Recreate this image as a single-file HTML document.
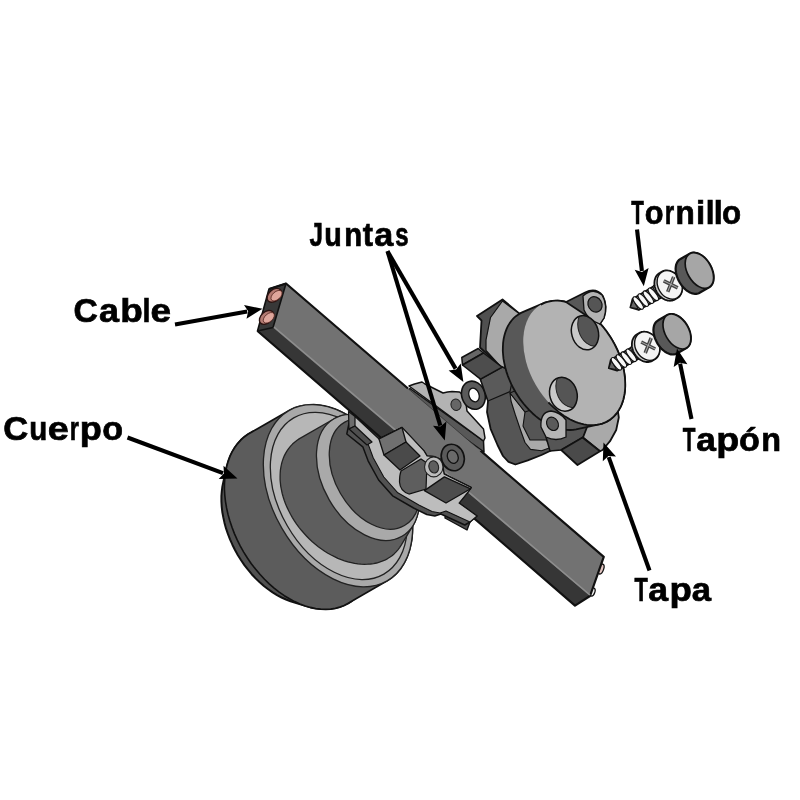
<!DOCTYPE html>
<html><head><meta charset="utf-8"><style>html,body{margin:0;padding:0;background:#fff;}svg{display:block}</style></head>
<body><svg width="800" height="800" viewBox="0 0 800 800">
<rect width="800" height="800" fill="#fff"/>
<polygon points="274.8,427.1 269.9,427.2 265.1,427.7 260.5,428.7 256.1,430.1 251.9,432.0 247.9,434.3 244.2,437.0 240.8,440.1 237.7,443.6 234.8,447.5 232.3,451.7 230.1,456.2 228.3,461.1 226.8,466.3 223.4,481.8 222.4,486.4 221.8,491.2 221.4,496.2 221.4,501.4 221.7,506.6 222.3,512.0 223.3,517.4 224.5,522.9 226.0,528.4 227.9,533.9 230.0,539.3 232.4,544.7 235.0,550.0 237.9,555.2 241.1,560.2 244.4,565.1 248.0,569.7 251.7,574.2 255.6,578.4 259.7,582.3 263.9,586.0 268.2,589.3 272.6,592.4 277.0,595.1 281.5,597.5 286.0,599.5 290.5,601.2 305.3,605.9 310.5,607.4 315.7,608.5 320.7,609.1 325.7,609.3 330.6,609.0 335.3,608.2 339.8,607.0 344.1,605.4 348.2,603.3 352.0,600.8 355.6,597.9 358.9,594.6 361.9,590.9 364.6,586.8 366.9,582.4 368.9,577.7 370.6,572.7 371.9,567.4 372.9,561.9 373.5,556.2 373.7,550.2 373.5,544.1 373.0,537.9 372.1,531.6 370.8,525.2 369.2,518.8 367.2,512.4 364.9,506.0 362.3,499.6 359.3,493.4 356.1,487.3 352.5,481.3 348.7,475.5 344.7,469.9 340.4,464.6 335.9,459.5 331.2,454.8 326.4,450.3 321.5,446.2 316.4,442.4 311.2,439.1 306.0,436.1 300.7,433.5 295.5,431.3 290.2,429.6 285.0,428.3 279.9,427.5 274.8,427.1" fill="#525252" stroke="#111" stroke-width="2.0" stroke-linejoin="round" />
<polygon points="313.8,404.6 308.9,404.7 304.1,405.2 299.5,406.2 295.1,407.6 290.9,409.5 251.9,432.0 247.9,434.3 244.2,437.0 240.8,440.1 237.7,443.6 234.8,447.5 232.3,451.7 230.1,456.2 228.3,461.1 226.8,466.3 225.6,471.7 224.9,477.3 224.5,483.1 224.4,489.2 224.8,495.3 225.5,501.6 226.6,508.0 228.0,514.4 229.8,520.8 232.0,527.2 234.4,533.6 237.2,539.9 240.3,546.1 243.7,552.1 247.4,558.0 251.3,563.7 255.5,569.1 259.9,574.3 264.5,579.2 269.2,583.9 274.1,588.1 279.2,592.1 284.3,595.7 289.5,598.8 294.7,601.6 300.0,604.0 305.3,605.9 310.5,607.4 315.7,608.5 320.7,609.1 325.7,609.3 330.6,609.0 335.3,608.2 339.8,607.0 344.1,605.4 348.2,603.3 387.2,580.8 391.0,578.3 394.6,575.4 397.9,572.1 400.9,568.4 403.5,564.3 405.9,559.9 407.9,555.2 409.6,550.2 410.9,544.9 411.9,539.4 412.4,533.7 412.6,527.7 412.5,521.6 412.0,515.4 411.1,509.1 409.8,502.7 408.2,496.3 406.2,489.9 403.9,483.5 401.3,477.1 398.3,470.9 395.0,464.8 391.5,458.8 387.7,453.0 383.7,447.4 379.4,442.1 374.9,437.0 370.2,432.3 365.4,427.8 360.4,423.7 355.3,419.9 350.2,416.6 345.0,413.6 339.7,411.0 334.4,408.8 329.2,407.1 324.0,405.8 318.8,405.0 313.8,404.6" fill="#5c5c5c" stroke="#111" stroke-width="1.6" stroke-linejoin="round" />
<ellipse cx="338.0" cy="495.7" rx="98.3" ry="64.9" transform="rotate(60.0 338.0 495.7)" fill="#a9a9a9" stroke="#222" stroke-width="1.3" />
<ellipse cx="338.8" cy="496.0" rx="90.2" ry="59.5" transform="rotate(60.0 338.8 496.0)" fill="#b7b7b7" stroke="#222" stroke-width="1.3" />
<polygon points="349.1,414.7 346.6,414.8 344.2,415.2 341.8,415.7 339.5,416.4 337.3,417.2 335.1,418.2 299.1,438.9 296.8,440.5 294.6,442.2 292.5,444.1 290.6,446.1 288.8,448.3 287.2,450.6 285.7,453.1 284.4,455.6 283.3,458.3 282.3,461.1 281.5,464.0 280.9,467.1 280.4,470.1 280.2,473.3 280.1,476.6 280.1,479.9 280.4,483.2 280.8,486.6 281.5,490.1 282.2,493.5 283.2,497.0 284.3,500.5 285.6,503.9 287.1,507.4 288.7,510.8 290.5,514.2 292.4,517.6 294.4,520.9 296.6,524.1 299.0,527.3 301.4,530.3 304.0,533.3 306.7,536.2 309.4,539.0 312.3,541.7 315.3,544.3 318.3,546.7 321.5,549.0 324.7,551.2 327.9,553.2 331.2,555.0 334.5,556.7 337.8,558.3 341.2,559.6 344.5,560.8 347.9,561.9 351.3,562.7 354.6,563.4 357.9,563.9 361.1,564.2 364.4,564.3 367.5,564.2 370.6,564.0 373.6,563.6 376.6,563.0 379.4,562.2 382.1,561.2 384.8,560.1 387.3,558.8 389.7,557.3 392.0,555.7 394.1,553.9 396.1,551.9 397.9,549.8 399.6,547.6 401.2,545.2 413.7,524.3 414.9,522.0 415.9,519.6 416.9,517.0 417.7,514.4 418.3,511.6 418.8,508.8 419.2,505.9 419.5,502.9 419.6,499.8 419.5,496.7 419.3,493.5 419.0,490.3 418.5,487.0 417.9,483.7 417.1,480.4 416.2,477.1 415.2,473.7 414.0,470.4 412.7,467.2 411.3,463.9 409.8,460.7 408.1,457.5 406.4,454.4 404.5,451.3 402.5,448.4 400.4,445.5 398.3,442.6 396.0,439.9 393.7,437.3 391.3,434.8 388.9,432.5 386.4,430.2 383.8,428.1 381.2,426.1 378.5,424.3 375.9,422.6 373.2,421.0 370.4,419.7 367.7,418.4 365.0,417.4 362.3,416.5 359.6,415.8 356.9,415.3 354.3,414.9 351.7,414.7 349.1,414.7" fill="#5e5e5e" stroke="#222" stroke-width="1.3" stroke-linejoin="round" />
<ellipse cx="368.0" cy="477.5" rx="67.9" ry="44.8" transform="rotate(60.0 368.0 477.5)" fill="#a9a9a9" stroke="#222" stroke-width="1.3" />
<ellipse cx="374.6" cy="473.8" rx="59.7" ry="39.4" transform="rotate(60.0 374.6 473.8)" fill="#5a5a5a" stroke="#222" stroke-width="1.3" />
<polygon points="410.0,388.5 483.5,441.0 484.0,452.0 405.0,395.0" fill="#585858" stroke="#111" stroke-width="1.5" stroke-linejoin="round" />
<polygon points="409.0,386.0 414.5,384.0 422.0,382.0 425.0,384.0 443.0,393.0 447.5,392.0 452.0,391.5 459.5,392.0 464.0,396.0 466.0,403.5 467.0,411.0 483.5,429.0 485.0,438.0 483.5,441.0" fill="#b3b3b3" stroke="#111" stroke-width="1.5" stroke-linejoin="round" />
<ellipse cx="456" cy="404.75" rx="5" ry="5.8" transform="rotate(-15 456 404.75)" fill="#666" stroke="#222" stroke-width="1"/>
<ellipse cx="601" cy="569" rx="2.6" ry="5.2" transform="rotate(20 601 569)" fill="#e2c4c0" stroke="#111" stroke-width="1.3"/>
<ellipse cx="592.5" cy="592" rx="2.3" ry="4.2" transform="rotate(20 592.5 592)" fill="#eeeeee" stroke="#111" stroke-width="1.3"/>
<polygon points="269.0,289.0 286.0,283.5 603.8,556.9 590.0,596.0 575.0,605.6 257.5,331.0" fill="#727272" stroke="none" stroke-width="0" stroke-linejoin="round" />
<polygon points="273.0,327.5 590.0,596.0 575.0,605.6 257.5,331.0" fill="#363636" stroke="none" stroke-width="0" stroke-linejoin="round" />
<polygon points="286.0,283.5 273.0,327.5 257.5,331.0 269.0,289.0" fill="#383838" stroke="#111" stroke-width="1.6" stroke-linejoin="round" />
<path d="M408,388.5 L286,283.5 L269,289 M257.5,331 L575,605.6 L590,596 L603.75,556.9 L480.5,450.7" fill="none" stroke="#111" stroke-width="2.2" stroke-linejoin="round"/>
<path d="M408,388.5 L480.5,450.7" fill="none" stroke="#333" stroke-width="0.8"/>
<line x1="274" y1="327" x2="590" y2="595" stroke="#8e8e8e" stroke-width="1.6"/>
<ellipse cx="274.3" cy="295.3" rx="8.3" ry="5.6" transform="rotate(-42 274.3 295.3)" fill="#b37a72" stroke="#2a1210" stroke-width="1.4"/>
<ellipse cx="276.5" cy="295.7" rx="6.6" ry="3.9" transform="rotate(-42 276.5 295.7)" fill="#dfa69c" stroke="#5a2a24" stroke-width="0.8"/>
<ellipse cx="266.6" cy="317.4" rx="8.3" ry="5.6" transform="rotate(-42 266.6 317.4)" fill="#b37a72" stroke="#2a1210" stroke-width="1.4"/>
<ellipse cx="268.8" cy="317.8" rx="6.6" ry="3.9" transform="rotate(-42 268.8 317.8)" fill="#dfa69c" stroke="#5a2a24" stroke-width="0.8"/>
<polygon points="446.0,511.0 445.0,518.0 467.0,530.0 470.0,522.0" fill="#4c4c4c" stroke="#111" stroke-width="1.4" stroke-linejoin="round" />
<polygon points="379.0,439.0 355.0,416.5 349.8,419.5 346.8,434.0 362.8,446.8 368.1,460.8 378.6,480.0 392.6,495.8 413.6,508.0 426.8,514.5 434.8,516.0 440.8,514.0 464.8,525.0 470.0,522.0 477.0,516.0 459.0,503.0 468.0,492.0 471.2,487.5 444.0,474.0 442.0,460.0 433.8,456.5 427.0,456.0 424.0,451.0 402.0,427.5 379.0,439.0" fill="#525252" stroke="#111" stroke-width="1.5" stroke-linejoin="round" />
<polygon points="352.0,431.0 355.0,416.5 379.0,439.0 402.0,427.5 424.0,451.0 427.0,456.0 433.8,456.5 442.0,460.0 444.0,474.0 471.2,487.5 468.0,492.0 459.0,503.0 477.0,516.0 470.0,522.0 446.0,511.0 440.0,513.0 432.0,511.5 418.8,505.0 397.8,492.8 383.8,477.0 373.2,457.8 368.0,443.8" fill="#bdbdbd" stroke="#111" stroke-width="1.0499999999999998" stroke-linejoin="round" />
<polygon points="348.5,411.5 355.0,416.5 355.0,426.0 349.0,429.0" fill="#6c6c6c" stroke="#111" stroke-width="1.2" stroke-linejoin="round" />
<polygon points="349.0,429.0 355.0,426.0 372.0,442.0 367.0,445.0" fill="#4e4e4e" stroke="#111" stroke-width="1.2" stroke-linejoin="round" />
<polygon points="379.0,439.0 402.0,427.5 406.0,442.0 384.0,455.0" fill="#707070" stroke="#111" stroke-width="1.3" stroke-linejoin="round" />
<polygon points="384.0,455.0 406.0,442.0 420.0,456.0 400.0,470.0" fill="#4a4a4a" stroke="#111" stroke-width="1.3" stroke-linejoin="round" />
<path d="M401,471 L421,459 L427,463 L426,489 L409,494 Q400,491 399.5,482 Q399.5,475 401,471 Z" fill="#5e5e5e" stroke="#111" stroke-width="1.2"/>
<ellipse cx="433.75" cy="466.9" rx="9.2" ry="10" fill="#bdbdbd" stroke="#222" stroke-width="1.1"/>
<ellipse cx="433.75" cy="466.9" rx="4.8" ry="6.2" transform="rotate(-15 433.75 466.9)" fill="#5e5e5e" stroke="#222" stroke-width="1.1"/>
<polygon points="424.4,490.6 444.4,476.9 470.6,488.8 446.0,503.0" fill="#4d4d4d" stroke="#111" stroke-width="1.3" stroke-linejoin="round" />
<ellipse cx="473.4" cy="395.2" rx="11.6" ry="14.3" transform="rotate(-20 473.4 395.2)" fill="#5a5a5a" stroke="#111" stroke-width="1.6"/>
<ellipse cx="474" cy="395" rx="5" ry="7" transform="rotate(-20 474 395)" fill="#ffffff" stroke="#111" stroke-width="1.3"/>
<ellipse cx="452.75" cy="457.5" rx="11.3" ry="13.5" transform="rotate(-20 452.75 457.5)" fill="#5a5a5a" stroke="#111" stroke-width="1.6"/>
<ellipse cx="452.75" cy="456.75" rx="5.3" ry="6.8" transform="rotate(-20 452.75 456.75)" fill="#6a6a6a" stroke="#111" stroke-width="1.3"/>
<polygon points="477.0,316.0 502.5,299.5 521.0,315.0 532.0,340.0 514.0,373.0 501.0,367.0 480.0,347.5 481.5,320.5" fill="#505050" stroke="#111" stroke-width="1.8" stroke-linejoin="round" />
<polygon points="502.5,301.0 521.0,315.0 532.0,340.0 514.0,373.0 501.0,367.0 486.0,350.5 486.0,340.0 490.5,317.5" fill="#a9a9a9" stroke="#111" stroke-width="1.2" stroke-linejoin="round" />
<polygon points="480.5,379.2 502.2,367.2 516.0,372.0 545.0,400.0 556.0,446.0 550.0,451.0 541.5,455.0 527.8,460.4 515.4,464.5 508.5,461.8 503.0,456.0 497.5,445.0 490.6,428.8 487.0,412.0 488.0,401.0" fill="#555555" stroke="#111" stroke-width="1.8" stroke-linejoin="round" />
<polygon points="488.0,401.0 510.0,391.6 514.0,372.0 502.2,367.2 480.5,379.2" fill="#5a5a5a" stroke="#111" stroke-width="1.2" stroke-linejoin="round" />
<polygon points="510.0,393.0 511.0,401.0 515.4,415.0 521.0,431.5 525.0,442.5 530.5,449.4 541.5,450.8 552.0,447.0 546.0,440.0 530.0,440.0 523.0,426.0 525.0,412.0" fill="#a9a9a9" stroke="#111" stroke-width="1.1" stroke-linejoin="round" />
<polygon points="525.0,412.0 510.0,393.0 540.0,380.0 560.0,400.0" fill="#555555" stroke="#111" stroke-width="1.1" stroke-linejoin="round" />
<polygon points="461.8,357.5 478.2,348.5 483.5,353.0 462.5,365.0" fill="#666666" stroke="#111" stroke-width="1.5" stroke-linejoin="round" />
<polygon points="462.5,365.0 483.5,353.0 502.2,367.2 480.5,379.2" fill="#4d4d4d" stroke="#111" stroke-width="1.5" stroke-linejoin="round" />
<polygon points="546.0,437.0 562.0,418.0 590.0,424.0 583.0,437.5 561.2,450.0 550.0,451.0" fill="#555555" stroke="#111" stroke-width="1.5" stroke-linejoin="round" />
<polygon points="583.0,437.5 588.0,424.5 607.0,418.0 618.0,412.0 618.8,417.5 616.2,430.0 610.0,441.2 602.5,450.0 600.0,451.2" fill="#a9a9a9" stroke="#111" stroke-width="1.8" stroke-linejoin="round" />
<polygon points="561.2,450.0 582.5,437.5 600.0,451.2 577.5,465.0" fill="#4a4a4a" stroke="#111" stroke-width="1.8" stroke-linejoin="round" />
<polygon points="557.7,300.7 554.3,300.8 551.1,301.1 547.9,301.8 544.9,302.7 523.8,311.6 521.0,312.9 518.4,314.4 515.9,316.2 513.7,318.2 511.6,320.5 509.7,323.1 508.0,325.9 506.6,328.9 505.4,332.1 504.4,335.5 503.6,339.1 503.1,342.8 502.9,346.7 502.8,350.7 503.1,354.7 503.5,358.9 504.3,363.1 505.2,367.3 506.4,371.6 507.8,375.8 509.5,380.0 511.3,384.2 513.4,388.3 515.6,392.3 518.0,396.1 520.6,399.9 523.4,403.5 526.3,406.9 529.3,410.2 532.4,413.2 535.7,416.1 539.0,418.7 542.4,421.0 545.8,423.1 549.3,425.0 552.8,426.5 556.2,427.8 559.7,428.8 563.1,429.5 566.5,429.9 569.8,430.0 573.0,429.8 576.1,429.3 599.0,424.4 602.1,423.6 605.0,422.5 607.8,421.1 610.4,419.4 612.9,417.4 615.1,415.1 617.2,412.6 619.0,409.8 620.6,406.8 622.0,403.6 623.1,400.2 624.0,396.6 624.7,392.8 625.1,388.9 625.2,384.8 625.1,380.6 624.8,376.4 624.1,372.1 623.3,367.7 622.2,363.3 620.8,358.9 619.3,354.6 617.5,350.2 615.4,346.0 613.2,341.8 610.8,337.7 608.2,333.8 605.4,330.0 602.5,326.3 599.4,322.9 596.2,319.6 592.9,316.6 589.6,313.7 586.1,311.2 582.6,308.9 579.0,306.8 575.4,305.1 571.8,303.6 568.2,302.4 564.7,301.5 561.1,301.0 557.7,300.7" fill="#585858" stroke="#111" stroke-width="1.8" stroke-linejoin="round" />
<path d="M541,427 Q540,412 551,411 Q560,412 566,420 L566,437 Q556,442 546,437 Z" fill="#b5b5b5" stroke="#111" stroke-width="1.3"/>
<ellipse cx="552.5" cy="423.8" rx="7.0" ry="5.6" transform="rotate(60.0 552.5 423.8)" fill="#5a5a5a" stroke="#111" stroke-width="1.2" />
<ellipse cx="574.2" cy="362.9" rx="67.1" ry="44.3" transform="rotate(60.0 574.2 362.9)" fill="#b3b3b3" stroke="none" stroke-width="0" />
<polyline points="548.4,402.3 550.9,404.9 553.5,407.4 556.1,409.7 558.7,411.9 561.5,414.0 564.2,415.9 567.0,417.6 569.8,419.2 572.7,420.6 575.5,421.8 578.3,422.8 581.1,423.7 583.9,424.3 586.7,424.8 589.4,425.1 592.1,425.1 594.7,425.0 597.3,424.7 599.8,424.2 602.2,423.6 604.5,422.7 606.8,421.6 608.9,420.4 610.9,419.0 612.8,417.4 614.6,415.7 616.3,413.7 617.8,411.7 619.2,409.4 620.5,407.1 621.6,404.6 622.6,401.9 623.4,399.2 624.1,396.3 624.6,393.4 625.0,390.3 625.2,387.1 625.2,383.9 625.1,380.6 624.9,377.3 624.4,373.9 623.9,370.5 623.1,367.0 622.3,363.6 621.2,360.1 620.0,356.7 618.7,353.2 617.3,349.8 615.7,346.5 614.0,343.2 612.1,339.9 610.2,336.8 608.1,333.7 606.0,330.6 603.7,327.7 601.3,324.9 598.9,322.3 596.4,319.7 593.8,317.3 591.1,315.0 588.4,312.9 585.7,310.9 582.9,309.1 580.1,307.4 577.3,305.9 574.4,304.6 571.6,303.5 568.8,302.6 566.0,301.8 563.2,301.3 560.5,300.9 557.7,300.7 555.1,300.7 552.5,300.9 550.0,301.3 547.5,301.9 545.1,302.7 542.9,303.6 540.7,304.8" fill="none" stroke="#111" stroke-width="1.8" stroke-linejoin="round"/>
<path d="M566,302 L585,292.5 Q596,287 603,296 Q608,306 604,318 L600,324 L590,318 Z" fill="#585858" stroke="#111" stroke-width="1.6"/>
<path d="M583,296 Q593,287 602,295 Q608,305 604,318 L600,324 Q588,320 584,310 Z" fill="#b3b3b3" stroke="#111" stroke-width="1.3"/>
<ellipse cx="595.0" cy="304.4" rx="8.0" ry="6.8" transform="rotate(60.0 595.0 304.4)" fill="#555555" stroke="#111" stroke-width="1.2" />
<clipPath id="hc0"><ellipse cx="585" cy="332.7" rx="17.4" ry="13.3" transform="rotate(74 585 332.7)"/></clipPath>
<ellipse cx="585" cy="332.7" rx="17.4" ry="13.3" transform="rotate(74 585 332.7)" fill="#c9c9c9"/>
<g clip-path="url(#hc0)"><ellipse cx="592.5" cy="327.2" rx="19.4" ry="14.3" transform="rotate(74 592.5 327.2)" fill="#555555" stroke="#222" stroke-width="1"/></g>
<ellipse cx="585" cy="332.7" rx="17.4" ry="13.3" transform="rotate(74 585 332.7)" fill="none" stroke="#111" stroke-width="1.5"/>
<clipPath id="hc1"><ellipse cx="563.4" cy="394.3" rx="17.2" ry="13.6" transform="rotate(74 563.4 394.3)"/></clipPath>
<ellipse cx="563.4" cy="394.3" rx="17.2" ry="13.6" transform="rotate(74 563.4 394.3)" fill="#c9c9c9"/>
<g clip-path="url(#hc1)"><ellipse cx="570.9" cy="388.8" rx="19.2" ry="14.6" transform="rotate(74 570.9 388.8)" fill="#555555" stroke="#222" stroke-width="1"/></g>
<ellipse cx="563.4" cy="394.3" rx="17.2" ry="13.6" transform="rotate(74 563.4 394.3)" fill="none" stroke="#111" stroke-width="1.5"/>
<polygon points="669.4,293.1 662.4,280.9 632.5,299.0 630.4,307.5 638.8,310.0" fill="#7a7a7a" stroke="#111" stroke-width="1.8" stroke-linejoin="round" />
<polygon points="633.2,300.3 630.4,307.5 638.1,308.7" fill="#666" stroke="#111" stroke-width="1.0" stroke-linejoin="round" />
<ellipse cx="663.4" cy="288.5" rx="7.6" ry="2.6" transform="rotate(52.0 663.4 288.5)" fill="#f8f8f8" stroke="#111" stroke-width="1.1"/>
<ellipse cx="658.4" cy="291.4" rx="7.6" ry="2.6" transform="rotate(52.0 658.4 291.4)" fill="#f8f8f8" stroke="#111" stroke-width="1.1"/>
<ellipse cx="653.3" cy="294.3" rx="7.6" ry="2.6" transform="rotate(52.0 653.3 294.3)" fill="#f8f8f8" stroke="#111" stroke-width="1.1"/>
<ellipse cx="648.3" cy="297.2" rx="7.6" ry="2.6" transform="rotate(52.0 648.3 297.2)" fill="#f8f8f8" stroke="#111" stroke-width="1.1"/>
<ellipse cx="643.2" cy="300.1" rx="7.6" ry="2.6" transform="rotate(52.0 643.2 300.1)" fill="#f8f8f8" stroke="#111" stroke-width="1.1"/>
<ellipse cx="638.2" cy="303.0" rx="7.6" ry="2.6" transform="rotate(52.0 638.2 303.0)" fill="#f8f8f8" stroke="#111" stroke-width="1.1"/>
<polygon points="666.2,270.5 665.4,270.5 664.5,270.7 663.7,270.9 662.9,271.2 662.1,271.5 660.0,272.8 659.2,273.2 658.5,273.7 657.9,274.3 657.3,274.9 656.7,275.5 656.2,276.2 655.8,277.0 655.4,277.8 655.1,278.7 654.8,279.6 654.6,280.5 654.5,281.5 654.4,282.4 654.4,283.4 654.4,284.5 654.5,285.5 654.7,286.5 655.0,287.5 655.3,288.5 655.6,289.5 656.0,290.5 656.5,291.5 657.0,292.4 657.6,293.4 658.2,294.2 658.9,295.1 659.6,295.9 660.4,296.6 661.2,297.3 662.0,297.9 662.8,298.5 663.7,299.0 664.6,299.5 665.4,299.9 666.4,300.2 667.3,300.5 668.2,300.6 669.1,300.7 670.0,300.8 670.8,300.7 671.7,300.6 672.5,300.5 673.4,300.2 674.1,299.9 674.9,299.5 677.0,298.3 677.8,297.8 678.4,297.3 679.1,296.7 679.6,296.1 680.2,295.4 680.6,294.6 681.0,293.8 681.4,293.0 681.7,292.1 681.9,291.2 682.1,290.3 682.2,289.3 682.3,288.3 682.2,287.3 682.2,286.3 682.0,285.3 681.8,284.2 681.5,283.2 681.2,282.2 680.8,281.2 680.4,280.2 679.9,279.3 679.3,278.3 678.7,277.4 678.1,276.6 677.4,275.8 676.6,275.0 675.9,274.3 675.1,273.6 674.2,273.0 673.4,272.5 672.5,272.0 671.6,271.6 670.7,271.2 669.8,270.9 668.9,270.7 668.0,270.6 667.1,270.5 666.2,270.5" fill="#cfcfcf" stroke="#111" stroke-width="1.8" stroke-linejoin="round" />
<ellipse cx="669.7" cy="284.9" rx="15.0" ry="11.7" transform="rotate(60.0 669.7 284.9)" fill="#f4f4f4" stroke="#111" stroke-width="1.4" />
<path d="M663.7,280.8 L677.7,287.8 M667.7,291.8 L673.7,276.8" stroke="#444" stroke-width="3.6"/>
<path d="M663.7,280.8 L677.7,287.8 M667.7,291.8 L673.7,276.8" stroke="#aaa" stroke-width="1"/>
<polygon points="646.9,354.3 639.9,342.2 610.8,359.8 608.8,368.2 617.1,370.7" fill="#7a7a7a" stroke="#111" stroke-width="1.8" stroke-linejoin="round" />
<polygon points="611.5,361.0 608.8,368.2 616.4,369.5" fill="#666" stroke="#111" stroke-width="1.0" stroke-linejoin="round" />
<ellipse cx="641.0" cy="349.7" rx="7.6" ry="2.6" transform="rotate(52.0 641.0 349.7)" fill="#f8f8f8" stroke="#111" stroke-width="1.1"/>
<ellipse cx="636.1" cy="352.5" rx="7.6" ry="2.6" transform="rotate(52.0 636.1 352.5)" fill="#f8f8f8" stroke="#111" stroke-width="1.1"/>
<ellipse cx="631.2" cy="355.3" rx="7.6" ry="2.6" transform="rotate(52.0 631.2 355.3)" fill="#f8f8f8" stroke="#111" stroke-width="1.1"/>
<ellipse cx="626.3" cy="358.2" rx="7.6" ry="2.6" transform="rotate(52.0 626.3 358.2)" fill="#f8f8f8" stroke="#111" stroke-width="1.1"/>
<ellipse cx="621.4" cy="361.0" rx="7.6" ry="2.6" transform="rotate(52.0 621.4 361.0)" fill="#f8f8f8" stroke="#111" stroke-width="1.1"/>
<ellipse cx="616.4" cy="363.8" rx="7.6" ry="2.6" transform="rotate(52.0 616.4 363.8)" fill="#f8f8f8" stroke="#111" stroke-width="1.1"/>
<polygon points="643.7,331.7 642.9,331.8 642.0,331.9 641.2,332.2 640.4,332.4 639.6,332.8 637.5,334.0 636.7,334.5 636.0,335.0 635.4,335.5 634.8,336.1 634.2,336.8 633.7,337.5 633.3,338.3 632.9,339.1 632.6,339.9 632.3,340.8 632.1,341.8 632.0,342.7 631.9,343.7 631.9,344.7 631.9,345.7 632.0,346.7 632.2,347.7 632.5,348.8 632.8,349.8 633.1,350.8 633.5,351.8 634.0,352.8 634.5,353.7 635.1,354.6 635.7,355.5 636.4,356.3 637.1,357.1 637.9,357.9 638.7,358.6 639.5,359.2 640.3,359.8 641.2,360.3 642.1,360.7 642.9,361.1 643.9,361.5 644.8,361.7 645.7,361.9 646.6,362.0 647.5,362.0 648.3,362.0 649.2,361.9 650.0,361.7 650.9,361.5 651.6,361.1 652.4,360.8 654.5,359.5 655.3,359.0 655.9,358.5 656.6,357.9 657.1,357.3 657.7,356.6 658.1,355.9 658.5,355.1 658.9,354.2 659.2,353.4 659.4,352.5 659.6,351.5 659.7,350.6 659.8,349.6 659.7,348.6 659.7,347.5 659.5,346.5 659.3,345.5 659.0,344.5 658.7,343.5 658.3,342.5 657.9,341.5 657.4,340.5 656.8,339.6 656.2,338.7 655.6,337.8 654.9,337.0 654.1,336.3 653.4,335.5 652.6,334.9 651.7,334.3 650.9,333.7 650.0,333.2 649.1,332.8 648.2,332.4 647.3,332.2 646.4,331.9 645.5,331.8 644.6,331.7 643.7,331.7" fill="#cfcfcf" stroke="#111" stroke-width="1.8" stroke-linejoin="round" />
<ellipse cx="647.2" cy="346.1" rx="15.0" ry="11.7" transform="rotate(60.0 647.2 346.1)" fill="#f4f4f4" stroke="#111" stroke-width="1.4" />
<path d="M641.2,342.0 L655.2,349.0 M645.2,353.0 L651.2,338.0" stroke="#444" stroke-width="3.6"/>
<path d="M641.2,342.0 L655.2,349.0 M645.2,353.0 L651.2,338.0" stroke="#aaa" stroke-width="1"/>
<polygon points="693.4,252.7 692.5,252.7 691.7,252.9 690.9,253.2 690.1,253.5 689.3,253.9 680.5,259.0 679.8,259.4 679.1,259.9 678.5,260.5 677.9,261.2 677.4,261.9 677.0,262.7 676.6,263.6 676.2,264.5 676.0,265.5 675.8,266.6 675.7,267.7 675.6,268.8 675.7,270.0 675.8,271.2 675.9,272.4 676.2,273.6 676.5,274.9 676.8,276.2 677.3,277.4 677.8,278.7 678.3,279.9 679.0,281.1 679.6,282.3 680.4,283.5 681.1,284.6 681.9,285.7 682.8,286.7 683.7,287.7 684.6,288.6 685.5,289.5 686.5,290.3 687.5,291.0 688.5,291.6 689.5,292.2 690.5,292.7 691.5,293.1 692.5,293.4 693.5,293.6 694.4,293.8 695.4,293.8 696.3,293.8 697.2,293.7 698.0,293.5 698.8,293.2 699.6,292.8 709.1,287.3 709.8,286.8 710.5,286.3 711.1,285.7 711.6,285.0 712.1,284.2 712.5,283.3 712.9,282.4 713.2,281.5 713.4,280.5 713.5,279.4 713.6,278.3 713.6,277.1 713.6,275.9 713.4,274.7 713.2,273.5 713.0,272.2 712.6,271.0 712.2,269.7 711.7,268.5 711.2,267.2 710.6,266.0 710.0,264.8 709.3,263.6 708.5,262.5 707.7,261.4 706.9,260.3 706.0,259.3 705.1,258.3 704.2,257.4 703.2,256.6 702.3,255.9 701.3,255.2 700.3,254.6 699.3,254.0 698.3,253.6 697.3,253.2 696.3,253.0 695.3,252.8 694.4,252.7 693.4,252.7" fill="#585858" stroke="#111" stroke-width="2.2" stroke-linejoin="round" />
<ellipse cx="699.4" cy="270.5" rx="19.4" ry="12.0" transform="rotate(60.0 699.4 270.5)" fill="#a6a6a6" stroke="#111" stroke-width="1.6500000000000001" />
<polygon points="671.1,314.0 670.2,314.1 669.3,314.3 668.5,314.5 667.8,314.8 658.2,320.3 657.5,320.8 656.8,321.3 656.2,321.8 655.7,322.5 655.2,323.2 654.7,324.0 654.3,324.9 654.0,325.8 653.8,326.7 653.6,327.8 653.5,328.8 653.4,330.0 653.5,331.1 653.6,332.3 653.7,333.5 654.0,334.7 654.2,335.9 654.6,337.1 655.0,338.4 655.5,339.6 656.1,340.8 656.7,342.0 657.3,343.2 658.0,344.3 658.8,345.4 659.6,346.5 660.4,347.5 661.3,348.5 662.2,349.4 663.1,350.2 664.1,351.0 665.0,351.7 666.0,352.3 667.0,352.9 668.0,353.3 669.0,353.7 669.9,354.1 670.9,354.3 671.8,354.4 672.8,354.5 673.7,354.4 674.5,354.3 675.3,354.1 676.1,353.8 676.9,353.5 686.4,348.0 687.1,347.5 687.7,347.0 688.3,346.3 688.9,345.7 689.3,344.9 689.8,344.1 690.1,343.2 690.4,342.2 690.6,341.2 690.7,340.2 690.8,339.1 690.8,338.0 690.8,336.8 690.6,335.6 690.4,334.4 690.2,333.2 689.9,332.0 689.5,330.7 689.0,329.5 688.5,328.3 687.9,327.1 687.3,325.9 686.6,324.7 685.9,323.6 685.1,322.5 684.3,321.5 683.4,320.5 682.5,319.6 681.6,318.7 680.7,317.9 679.7,317.2 678.7,316.5 677.8,315.9 676.8,315.4 675.8,314.9 674.8,314.6 673.9,314.3 672.9,314.1 672.0,314.0 671.1,314.0" fill="#585858" stroke="#111" stroke-width="2.2" stroke-linejoin="round" />
<ellipse cx="676.9" cy="331.5" rx="19.0" ry="11.8" transform="rotate(60.0 676.9 331.5)" fill="#a6a6a6" stroke="#111" stroke-width="1.6500000000000001" />
<line x1="175.0" y1="324.5" x2="247.2" y2="311.5" stroke="#000" stroke-width="4.1"/>
<polygon points="262.5,308.8 246.5,318.7 248.2,311.3 244.0,305.0" fill="#000"/>
<line x1="127.5" y1="437.5" x2="223.0" y2="473.1" stroke="#000" stroke-width="4.1"/>
<polygon points="237.5,478.5 218.7,478.9 223.9,473.4 223.5,465.8" fill="#000"/>
<line x1="387.5" y1="251.2" x2="455.6" y2="368.6" stroke="#000" stroke-width="4.1"/>
<polygon points="463.4,382.0 448.6,370.4 456.1,369.5 460.7,363.4" fill="#000"/>
<line x1="387.5" y1="251.2" x2="440.3" y2="425.6" stroke="#000" stroke-width="4.1"/>
<polygon points="444.8,440.4 433.0,425.7 440.5,426.5 446.4,421.6" fill="#000"/>
<line x1="637.0" y1="229.5" x2="641.9" y2="270.9" stroke="#000" stroke-width="4.1"/>
<polygon points="643.8,286.2 634.7,269.7 642.0,271.9 648.6,268.0" fill="#000"/>
<line x1="691.5" y1="419.0" x2="680.1" y2="363.7" stroke="#000" stroke-width="4.1"/>
<polygon points="677.0,348.5 687.4,364.2 679.9,362.7 673.7,367.1" fill="#000"/>
<line x1="649.5" y1="570.5" x2="608.7" y2="457.1" stroke="#000" stroke-width="4.1"/>
<polygon points="603.5,442.5 616.0,456.6 608.4,456.1 602.8,461.3" fill="#000"/>
<g style="will-change:transform"><text transform="translate(631.30 223.60) scale(0.624 1)" x="0" y="0" font-family="Liberation Sans, sans-serif" font-weight="bold" font-size="33" fill="#000" stroke="#000" stroke-width="0.7">T</text>
<text transform="translate(644.84 223.60) scale(0.932 1)" x="0" y="0" font-family="Liberation Sans, sans-serif" font-weight="bold" font-size="33" fill="#000" stroke="#000" stroke-width="0.7">o</text>
<text transform="translate(664.74 223.60) scale(0.733 1)" x="0" y="0" font-family="Liberation Sans, sans-serif" font-weight="bold" font-size="33" fill="#000" stroke="#000" stroke-width="0.7">r</text>
<text transform="translate(675.55 223.60) scale(0.956 1)" x="0" y="0" font-family="Liberation Sans, sans-serif" font-weight="bold" font-size="33" fill="#000" stroke="#000" stroke-width="0.7">n</text>
<text transform="translate(695.95 223.60) scale(1.000 1)" x="0" y="0" font-family="Liberation Sans, sans-serif" font-weight="bold" font-size="33" fill="#000" stroke="#000" stroke-width="0.7">i</text>
<text transform="translate(705.65 223.60) scale(0.956 1)" x="0" y="0" font-family="Liberation Sans, sans-serif" font-weight="bold" font-size="33" fill="#000" stroke="#000" stroke-width="0.7">l</text>
<text transform="translate(713.80 223.60) scale(0.978 1)" x="0" y="0" font-family="Liberation Sans, sans-serif" font-weight="bold" font-size="33" fill="#000" stroke="#000" stroke-width="0.7">l</text>
<text transform="translate(722.12 223.60) scale(0.949 1)" x="0" y="0" font-family="Liberation Sans, sans-serif" font-weight="bold" font-size="33" fill="#000" stroke="#000" stroke-width="0.7">o</text>
<text transform="translate(309.38 245.60) scale(0.731 1)" x="0" y="0" font-family="Liberation Sans, sans-serif" font-weight="bold" font-size="33" fill="#000" stroke="#000" stroke-width="0.7">J</text>
<text transform="translate(324.21 245.60) scale(0.869 1)" x="0" y="0" font-family="Liberation Sans, sans-serif" font-weight="bold" font-size="33" fill="#000" stroke="#000" stroke-width="0.7">u</text>
<text transform="translate(344.30 245.60) scale(0.887 1)" x="0" y="0" font-family="Liberation Sans, sans-serif" font-weight="bold" font-size="33" fill="#000" stroke="#000" stroke-width="0.7">n</text>
<text transform="translate(362.68 245.60) scale(0.931 1)" x="0" y="0" font-family="Liberation Sans, sans-serif" font-weight="bold" font-size="33" fill="#000" stroke="#000" stroke-width="0.7">t</text>
<text transform="translate(374.22 245.60) scale(1.034 1)" x="0" y="0" font-family="Liberation Sans, sans-serif" font-weight="bold" font-size="33" fill="#000" stroke="#000" stroke-width="0.7">a</text>
<text transform="translate(395.28 245.60) scale(0.728 1)" x="0" y="0" font-family="Liberation Sans, sans-serif" font-weight="bold" font-size="33" fill="#000" stroke="#000" stroke-width="0.7">s</text>
<text transform="translate(73.52 322.00) scale(1.019 1)" x="0" y="0" font-family="Liberation Sans, sans-serif" font-weight="bold" font-size="33" fill="#000" stroke="#000" stroke-width="0.7">C</text>
<text transform="translate(99.06 322.00) scale(1.091 1)" x="0" y="0" font-family="Liberation Sans, sans-serif" font-weight="bold" font-size="33" fill="#000" stroke="#000" stroke-width="0.7">a</text>
<text transform="translate(120.18 322.00) scale(1.120 1)" x="0" y="0" font-family="Liberation Sans, sans-serif" font-weight="bold" font-size="33" fill="#000" stroke="#000" stroke-width="0.7">b</text>
<text transform="translate(142.56 322.00) scale(0.867 1)" x="0" y="0" font-family="Liberation Sans, sans-serif" font-weight="bold" font-size="33" fill="#000" stroke="#000" stroke-width="0.7">l</text>
<text transform="translate(150.39 322.00) scale(1.119 1)" x="0" y="0" font-family="Liberation Sans, sans-serif" font-weight="bold" font-size="33" fill="#000" stroke="#000" stroke-width="0.7">e</text>
<text transform="translate(3.28 440.00) scale(1.047 1)" x="0" y="0" font-family="Liberation Sans, sans-serif" font-weight="bold" font-size="33" fill="#000" stroke="#000" stroke-width="0.7">C</text>
<text transform="translate(29.26 440.00) scale(0.894 1)" x="0" y="0" font-family="Liberation Sans, sans-serif" font-weight="bold" font-size="33" fill="#000" stroke="#000" stroke-width="0.7">u</text>
<text transform="translate(47.66 440.00) scale(1.145 1)" x="0" y="0" font-family="Liberation Sans, sans-serif" font-weight="bold" font-size="33" fill="#000" stroke="#000" stroke-width="0.7">e</text>
<text transform="translate(69.68 440.00) scale(0.713 1)" x="0" y="0" font-family="Liberation Sans, sans-serif" font-weight="bold" font-size="33" fill="#000" stroke="#000" stroke-width="0.7">r</text>
<text transform="translate(79.84 440.00) scale(1.096 1)" x="0" y="0" font-family="Liberation Sans, sans-serif" font-weight="bold" font-size="33" fill="#000" stroke="#000" stroke-width="0.7">p</text>
<text transform="translate(102.21 440.00) scale(1.034 1)" x="0" y="0" font-family="Liberation Sans, sans-serif" font-weight="bold" font-size="33" fill="#000" stroke="#000" stroke-width="0.7">o</text>
<text transform="translate(682.80 451.00) scale(0.629 1)" x="0" y="0" font-family="Liberation Sans, sans-serif" font-weight="bold" font-size="33" fill="#000" stroke="#000" stroke-width="0.7">T</text>
<text transform="translate(696.18 451.00) scale(1.074 1)" x="0" y="0" font-family="Liberation Sans, sans-serif" font-weight="bold" font-size="33" fill="#000" stroke="#000" stroke-width="0.7">a</text>
<text transform="translate(716.35 451.00) scale(1.139 1)" x="0" y="0" font-family="Liberation Sans, sans-serif" font-weight="bold" font-size="33" fill="#000" stroke="#000" stroke-width="0.7">p</text>
<text transform="translate(739.11 451.00) scale(1.034 1)" x="0" y="0" font-family="Liberation Sans, sans-serif" font-weight="bold" font-size="33" fill="#000" stroke="#000" stroke-width="0.7">ó</text>
<text transform="translate(761.19 451.00) scale(0.981 1)" x="0" y="0" font-family="Liberation Sans, sans-serif" font-weight="bold" font-size="33" fill="#000" stroke="#000" stroke-width="0.7">n</text>
<text transform="translate(634.59 601.30) scale(0.660 1)" x="0" y="0" font-family="Liberation Sans, sans-serif" font-weight="bold" font-size="33" fill="#000" stroke="#000" stroke-width="0.7">T</text>
<text transform="translate(648.37 601.30) scale(1.080 1)" x="0" y="0" font-family="Liberation Sans, sans-serif" font-weight="bold" font-size="33" fill="#000" stroke="#000" stroke-width="0.7">a</text>
<text transform="translate(669.50 601.30) scale(1.111 1)" x="0" y="0" font-family="Liberation Sans, sans-serif" font-weight="bold" font-size="33" fill="#000" stroke="#000" stroke-width="0.7">p</text>
<text transform="translate(691.70 601.30) scale(1.051 1)" x="0" y="0" font-family="Liberation Sans, sans-serif" font-weight="bold" font-size="33" fill="#000" stroke="#000" stroke-width="0.7">a</text></g>
</svg></body></html>
